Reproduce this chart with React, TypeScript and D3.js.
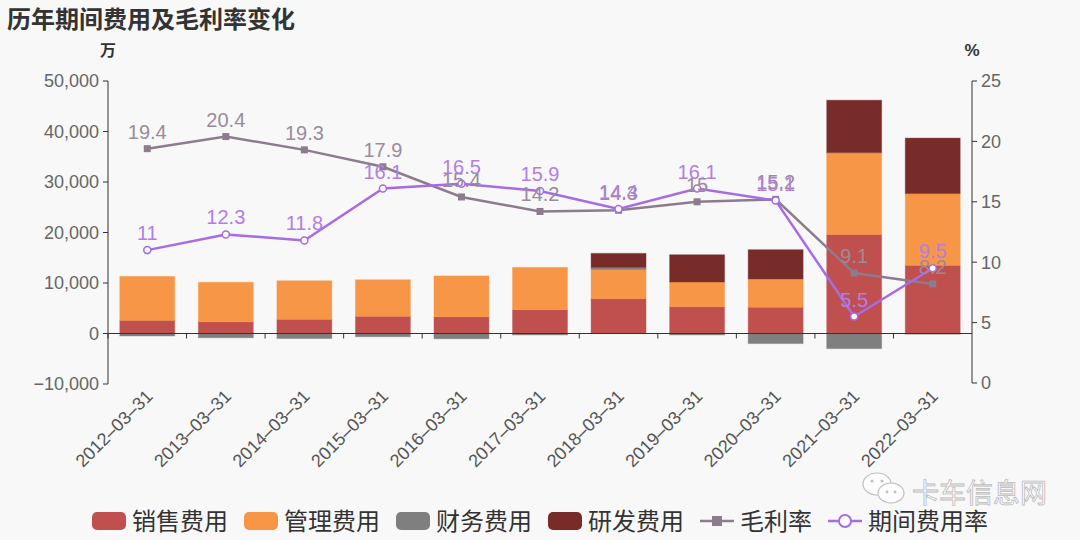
import React from "react";
import * as d3 from "d3";

const categories = ["2012-03-31","2013-03-31","2014-03-31","2015-03-31","2016-03-31","2017-03-31","2018-03-31","2019-03-31","2020-03-31","2021-03-31","2022-03-31"];
const sales = [2600, 2300, 2800, 3400, 3300, 4700, 6900, 5300, 5200, 19600, 13500];
const admin = [8700, 7850, 7650, 7250, 8100, 8400, 5750, 4900, 5600, 16200, 14200];
const finance = [-500, -850, -1000, -650, -1050, -300, 450, -300, -2000, -3000, -150];
const rnd = [0, 0, 0, 0, 0, 0, 2770, 5400, 5800, 10400, 11000];
const grossMargin = [19.4, 20.4, 19.3, 17.9, 15.4, 14.2, 14.3, 15, 15.2, 9.1, 8.2];
const expenseRate = [11, 12.3, 11.8, 16.1, 16.5, 15.9, 14.4, 16.1, 15.1, 5.5, 9.5];
const leftTicks = [-10000, 0, 10000, 20000, 30000, 40000, 50000];
const rightTicks = [0, 5, 10, 15, 20, 25];

const barKeys = ["销售费用", "管理费用", "财务费用", "研发费用"];
const barColors = ["#c0504d", "#f79646", "#7f7f7f", "#772c2a"];
const lineGray = "#8c7c8e";
const linePurple = "#a66be6";

const FONT = "'Liberation Sans', 'Noto Sans CJK SC', sans-serif";

export default function App() {
  const W = 1080, H = 540;
  const x0 = 108, x1 = 972;
  const x = d3.scaleBand<string>().domain(categories).range([x0, x1]).paddingInner(0.3).paddingOuter(0.15);
  const yL = d3.scaleLinear().domain([-10000, 50000]).range([384, 81]);
  const yR = d3.scaleLinear().domain([0, 25]).range([383, 81]);
  const step = x.step();

  const rows = categories.map((c, i) => ({ cat: c, "销售费用": sales[i], "管理费用": admin[i], "财务费用": finance[i], "研发费用": rnd[i] }));
  const stacked = d3.stack<any>().keys(barKeys).offset(d3.stackOffsetDiverging)(rows);

  const cx = (i: number) => (x(categories[i]) as number) + x.bandwidth() / 2;
  const lineGen = (vals: number[]) => d3.line<number>().x((_, i) => cx(i)).y((v) => yR(v))(vals) as string;

  const fmt = d3.format(",");
  const zeroY = yL(0);

  const legendItems = [
    { label: "销售费用", type: "rect", color: barColors[0] },
    { label: "管理费用", type: "rect", color: barColors[1] },
    { label: "财务费用", type: "rect", color: barColors[2] },
    { label: "研发费用", type: "rect", color: barColors[3] },
    { label: "毛利率", type: "lineSq", color: lineGray },
    { label: "期间费用率", type: "lineCirc", color: linePurple },
  ];
  let lx = 92;
  const legendPos = legendItems.map((it) => {
    const p = lx;
    lx += 34 + 6 + it.label.length * 24 + 16;
    return p;
  });
  const legY = 521;

  return (
    <div style={{ position: "fixed", left: 0, top: 0, width: W, height: H }}>
      <svg width={W} height={H} style={{ display: "block", fontFamily: FONT }}>
        <rect x={0} y={0} width={W} height={H} fill="#f8f8f8" />
        <text x={7} y={28} fontSize={24} fontWeight="bold" fill="#333" fontFamily="'Noto Sans CJK SC', sans-serif">历年期间费用及毛利率变化</text>
        <text x={108} y={56} fontSize={16} fontWeight="bold" fill="#333" textAnchor="middle">万</text>
        <text x={972} y={56} fontSize={17} fontWeight="bold" fill="#333" textAnchor="middle">%</text>

        {/* bars */}
        {stacked.map((s, k) => (
          <g key={k} fill={barColors[k]}>
            {s.map((d, i) => {
              const top = yL(Math.max(d[0], d[1]));
              const bot = yL(Math.min(d[0], d[1]));
              if (bot - top < 0.01) return null;
              return (
                <rect key={i} x={x(categories[i])} y={top} width={x.bandwidth()} height={bot - top}
                  stroke={barColors[k]} strokeOpacity={0.35} strokeWidth={1} />
              );
            })}
          </g>
        ))}

        {/* left axis */}
        <line x1={x0} x2={x0} y1={yL(50000)} y2={yL(-10000)} stroke="#333" strokeWidth={1} />
        {leftTicks.map((t) => (
          <g key={t}>
            <line x1={x0 - 5} x2={x0} y1={yL(t)} y2={yL(t)} stroke="#333" />
            <text x={x0 - 9} y={yL(t)} dy="0.35em" fontSize={18} fill="#666" textAnchor="end">{fmt(t).replace("-", "−")}</text>
          </g>
        ))}

        {/* right axis */}
        <line x1={x1} x2={x1} y1={yR(25)} y2={yR(0)} stroke="#333" strokeWidth={1} />
        {rightTicks.map((t) => (
          <g key={t}>
            <line x1={x1} x2={x1 + 5} y1={yR(t)} y2={yR(t)} stroke="#333" />
            <text x={x1 + 9} y={yR(t)} dy="0.35em" fontSize={18} fill="#666" textAnchor="start">{t}</text>
          </g>
        ))}

        {/* x axis */}
        <line x1={x0} x2={x1} y1={zeroY} y2={zeroY} stroke="#333" strokeWidth={1} />
        {categories.map((c, i) => (
          <line key={c} x1={x0 + step * i} x2={x0 + step * i} y1={zeroY} y2={zeroY + 5} stroke="#333" />
        ))}
        {categories.map((c, i) => (
          <text key={c} transform={`translate(${cx(i) + 2},${393}) rotate(-45)`} fontSize={18} fill="#555" textAnchor="end" dy="0.35em">
            {c.replace(/-/g, "–")}
          </text>
        ))}

        {/* lines */}
        <path d={lineGen(grossMargin)} fill="none" stroke={lineGray} strokeWidth={2.5} />
        {grossMargin.map((v, i) => (
          <rect key={i} x={cx(i) - 3.5} y={yR(v) - 3.5} width={7} height={7} fill={lineGray} />
        ))}
        <path d={lineGen(expenseRate)} fill="none" stroke={linePurple} strokeWidth={2.5} />
        {expenseRate.map((v, i) => (
          <circle key={i} cx={cx(i)} cy={yR(v)} r={3.5} fill="#fff" stroke={linePurple} strokeWidth={1.5} />
        ))}
        {grossMargin.map((v, i) => (
          <text key={i} x={cx(i)} y={yR(v) - 10} fontSize={20} fill="#9a8b9c" textAnchor="middle">{v}</text>
        ))}
        {expenseRate.map((v, i) => (
          <text key={i} x={cx(i)} y={yR(v) - 10} fontSize={20} fill="#b27ee6" textAnchor="middle">{v}</text>
        ))}

        {/* watermark */}
        <g opacity={0.9}>
          <ellipse cx={877} cy={484} rx={14} ry={11} fill="#fff" stroke="#bbb" strokeWidth={1.2} />
          <ellipse cx={891} cy={493} rx={13} ry={10} fill="#fff" stroke="#bbb" strokeWidth={1.2} />
          <circle cx={872} cy={481} r={1.6} fill="#bbb" />
          <circle cx={882} cy={481} r={1.6} fill="#bbb" />
          <circle cx={887} cy={492} r={1.4} fill="#bbb" />
          <circle cx={895} cy={492} r={1.4} fill="#bbb" />
          <text x={912} y={503} fontSize={27} fill="#fff" stroke="#b5b5b5" strokeWidth={0.8} fontFamily="'Noto Sans CJK SC', sans-serif">卡车信息网</text>
        </g>

        {/* legend */}
        {legendItems.map((it, i) => {
          const px = legendPos[i];
          return (
            <g key={it.label}>
              {it.type === "rect" && (
                <rect x={px} y={legY - 9} width={34} height={18} rx={5} fill={it.color} />
              )}
              {it.type === "lineSq" && (
                <g>
                  <line x1={px} x2={px + 34} y1={legY} y2={legY} stroke={it.color} strokeWidth={2.5} />
                  <rect x={px + 12} y={legY - 5} width={10} height={10} fill={it.color} />
                </g>
              )}
              {it.type === "lineCirc" && (
                <g>
                  <line x1={px} x2={px + 34} y1={legY} y2={legY} stroke={it.color} strokeWidth={2.5} />
                  <circle cx={px + 17} cy={legY} r={6} fill="#fff" stroke={it.color} strokeWidth={2} />
                </g>
              )}
              <text x={px + 40} y={legY} dy="0.36em" fontSize={24} fill="#333" fontFamily="'Noto Sans CJK SC', sans-serif">{it.label}</text>
            </g>
          );
        })}
      </svg>
    </div>
  );
}
